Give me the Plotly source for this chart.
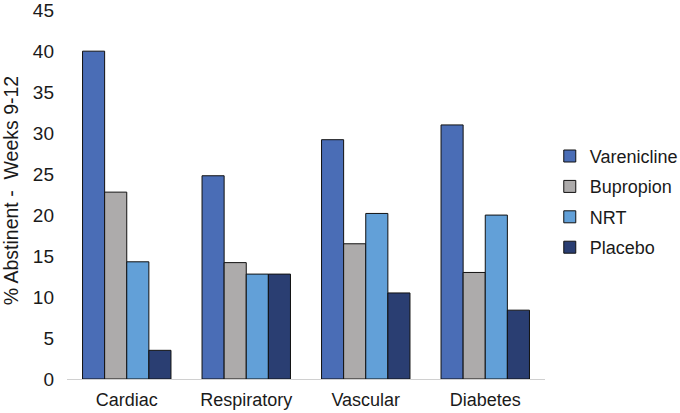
import plotly.graph_objects as go

categories = ["Cardiac", "Respiratory", "Vascular", "Diabetes"]
series_names = ["Varenicline", "Bupropion", "NRT", "Placebo"]
varenicline = [40.0, 24.8, 29.2, 31.0]
bupropion = [22.8, 14.2, 16.5, 13.0]
nrt = [14.3, 12.8, 20.2, 20.0]
placebo = [3.5, 12.8, 10.5, 8.4]
y_ticks = [0, 5, 10, 15, 20, 25, 30, 35, 40, 45]

colors = ["#4A6DB6", "#ADABAB", "#62A0D8", "#2A3E72"]
values = [varenicline, bupropion, nrt, placebo]

fig = go.Figure()
for name, vals, col in zip(series_names, values, colors):
    fig.add_trace(go.Bar(
        x=categories, y=vals, name=name, legendgroup=name,
        marker=dict(color=col, line=dict(color="#111111", width=1)),
    ))

font_family = "Liberation Sans, Arial, sans-serif"
fig.update_layout(
    width=680, height=413,
    margin=dict(l=67, r=135, t=2, b=34, autoexpand=False),
    paper_bgcolor="white", plot_bgcolor="white",
    barmode="group", bargap=0.26, bargroupgap=0,
    font=dict(family=font_family, size=18, color="#1a1a1a"),
    legend=dict(x=1.01, y=0.47, xanchor="left", yanchor="middle",
                font=dict(size=18), tracegroupgap=4,
                itemwidth=30),
    showlegend=True,
    yaxis=dict(range=[0, 46], tickmode="array", tickvals=y_ticks,
               showgrid=False, ticklabeloverflow="allow",
               zeroline=False, showline=False,
               ticks="", ticklabelstandoff=12,
               title=dict(text="% Abstinent -  Weeks 9-12", font=dict(size=19.5), standoff=10),
               tickfont=dict(size=19)),
    xaxis=dict(showline=True, linecolor="#D0D0D0", linewidth=1,
               ticks="", tickfont=dict(size=18), ticklabelstandoff=4),
)

fig.write_html("out.html", post_script="document.body.style.margin='0';",
               config={"displayModeBar": False})
